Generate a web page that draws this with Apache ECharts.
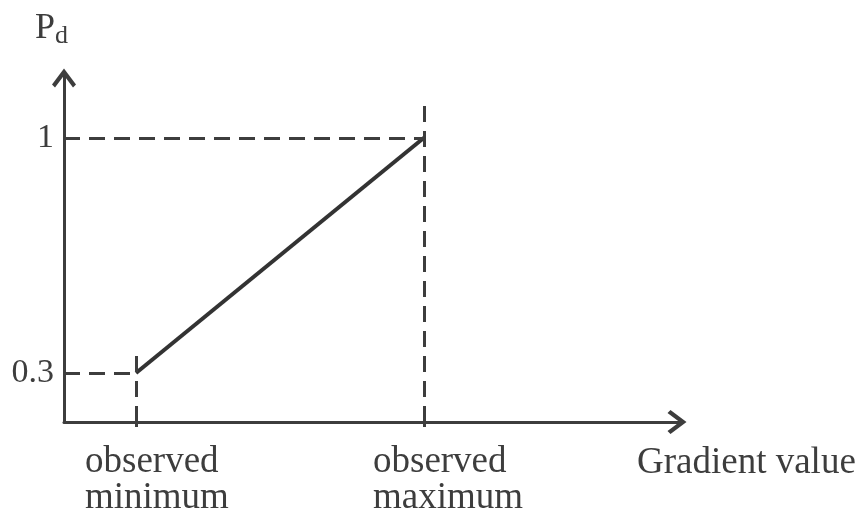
<!DOCTYPE html>
<html>
<head>
<meta charset="utf-8">
<title>Pd vs gradient value</title>
<script src="https://cdn.jsdelivr.net/npm/echarts@6/dist/echarts.min.js"></script>
<style>
  html, body { margin: 0; padding: 0; background: #fff; }
  #chart { width: 861px; height: 521px; }
</style>
</head>
<body>
<div id="chart"></div>
<script>
// data
var xTicks = [1, 5];                         // observed minimum, observed maximum
var xTickLabels = ['observed\nminimum', 'observed\nmaximum'];
var yTicks = [0.3, 1];
var yTickLabels = ['0.3', '1'];
var pdLine = [[1, 0.3], [5, 1]];

// axis ranges and guide extents
var xMin = 0, xMax = 8.57;
var yMin = 0.154, yMax = 1.19;
var guideTop = [0.355, 1.105];

var ink = '#3d3d3d';
var serif = '"Liberation Serif", "Times New Roman", serif';
var arrow = 'path://M12,0L24,16L21,19L12,7L3,19L0,16Z';

var guides = [];
for (var i = 0; i < xTicks.length; i++) {
    guides.push([{coord: [xMin, yTicks[i]]}, {coord: [xTicks[i], yTicks[i]]}]);
    guides.push([{coord: [xTicks[i], yMin]}, {coord: [xTicks[i], guideTop[i]]}]);
}

var myChart = echarts.init(document.getElementById('chart'));
var option = {
    animation: false,
    grid: {left: 64, right: 180, top: 74, bottom: 99},
    xAxis: {
        type: 'value',
        min: xMin,
        max: xMax,
        name: 'Gradient value',
        nameLocation: 'end',
        nameGap: -44,
        nameTextStyle: {
            fontFamily: serif, fontSize: 37, color: ink,
            align: 'left', verticalAlign: 'top', lineHeight: 36,
            padding: [23, 0, 0, 0]
        },
        splitLine: {show: false},
        axisLine: {
            lineStyle: {color: ink, width: 3},
            symbol: ['none', arrow],
            symbolSize: [24, 20],
            symbolOffset: [0, -4]
        },
        axisTick: {
            customValues: xTicks,
            length: 5,
            lineStyle: {color: ink, width: 3}
        },
        axisLabel: {
            customValues: xTicks,
            margin: 22,
            align: 'center',
            padding: [0, 0, 0, 58],
            formatter: function (v) {
                var idx = xTicks.indexOf(v);
                var parts = xTickLabels[idx].split('\n');
                return '{a|' + parts[0] + '}\n{a|' + parts[1] + '}';
            },
            rich: {
                a: {fontFamily: serif, fontSize: 37, color: ink, lineHeight: 36, width: 160, align: 'left'}
            }
        }
    },
    yAxis: {
        type: 'value',
        min: yMin,
        max: yMax,
        name: '{p|P}{d|d}',
        nameLocation: 'end',
        nameGap: 25,
        nameTextStyle: {
            align: 'right',
            padding: [0, -4, 0, 0],
            rich: {
                p: {fontFamily: serif, fontSize: 36, color: ink, lineHeight: 40},
                d: {fontFamily: serif, fontSize: 26, color: ink, lineHeight: 18, verticalAlign: 'bottom'}
            }
        },
        splitLine: {show: false},
        axisLine: {
            show: true,
            lineStyle: {color: ink, width: 3},
            symbol: ['none', arrow],
            symbolSize: [24, 20],
            symbolOffset: [0, -4]
        },
        axisTick: {show: false},
        axisLabel: {
            customValues: yTicks,
            margin: 10,
            fontFamily: serif,
            fontSize: 34,
            color: ink,
            formatter: function (v) {
                return yTickLabels[yTicks.indexOf(v)];
            }
        }
    },
    series: [{
        type: 'line',
        data: pdLine,
        symbol: 'none',
        lineStyle: {color: '#333', width: 4},
        markLine: {
            silent: true,
            symbol: 'none',
            label: {show: false},
            lineStyle: {color: ink, width: 3, type: [16, 9]},
            data: guides
        }
    }]
};
myChart.setOption(option);
</script>
</body>
</html>
